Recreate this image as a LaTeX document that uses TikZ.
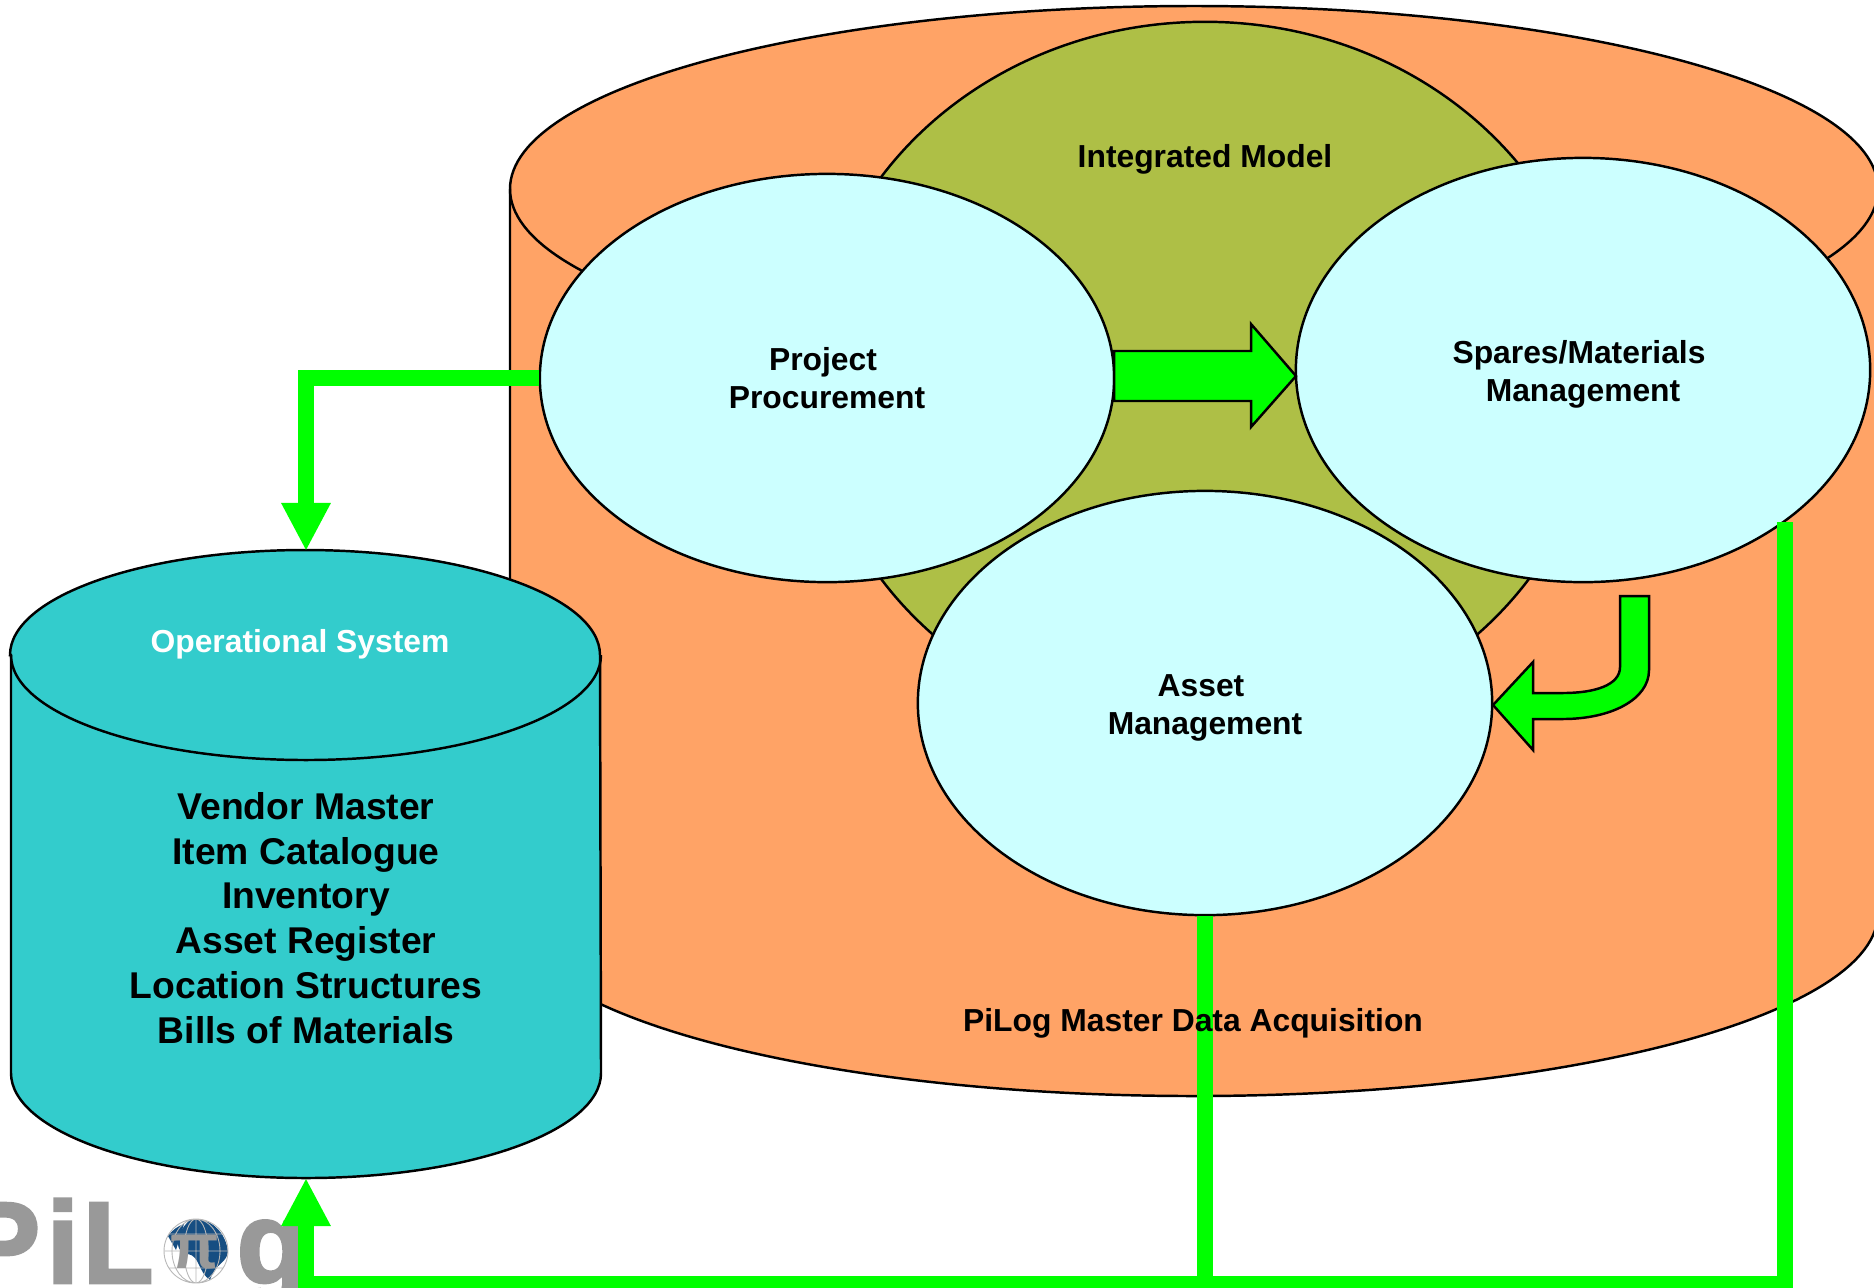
\documentclass[tikz,border=0pt]{standalone}
\usepackage{fontspec}
\setmainfont{Liberation Sans}
\newfontfamily\logofont{Liberation Sans}[BoldFeatures={FakeBold=2.5}]
\usetikzlibrary{arrows.meta,shapes.geometric}
\definecolor{drumorange}{RGB}{255,163,102}
\definecolor{modelolive}{RGB}{174,191,70}
\definecolor{moduleblue}{RGB}{204,255,255}
\definecolor{opsteal}{RGB}{51,204,204}
\definecolor{flowgreen}{RGB}{0,255,0}
\definecolor{logogrey}{RGB}{153,153,153}
\definecolor{globeblue}{RGB}{22,78,130}
\tikzset{
    module/.style={draw, ellipse, fill=moduleblue, line width=0.7pt, inner sep=0pt, minimum width=5.74cm, minimum height=4.24cm},
    caption/.style={inner sep=0pt, align=center, font=\bfseries\fontsize{9.05}{10.9}\selectfont},
    flow/.style={draw=flowgreen, line width=0.16cm},
    flowtip/.style={flow, -{Triangle[length=0.48cm,width=0.46cm]}},
    blockarrow/.style={draw, fill=flowgreen, line width=0.7pt, line join=miter},
    logoletter/.style={text=logogrey, inner sep=0pt, anchor=base west, font=\logofont\bfseries\fontsize{33}{33}\selectfont},
}
\begin{document}
\begin{tikzpicture}[x=0.01cm,y=-0.01cm]
        \clip (0,0) rectangle (1874,1287);

        % big drum
        \draw[fill=drumorange, line width=0.7pt] (510,189) -- (510,913) arc[start angle=180, end angle=0, x radius=684, y radius=183] -- (1878,189) arc[start angle=0, end angle=-180, x radius=684, y radius=183] -- cycle;
        \draw[line width=0.7pt] (510,189) arc[start angle=180, end angle=0, x radius=684, y radius=183];

        % model and the three modules
        \node[draw, ellipse, fill=modelolive, line width=0.7pt, inner sep=0pt, minimum width=7.84cm, minimum height=7.12cm] (model) at (1205,378) {};
        \node[caption] (modeltitle) at (1205,159) {Integrated Model};
        \node[module, minimum height=4.08cm] (project) at (827,378) {};
        \node[module] (spares) at (1583,370) {};
        \node[module] (asset) at (1205,703) {};
        \node[caption] at (project) {Project\hspace*{0.08cm}\\Procurement};
        \node[caption] at ([yshift=-0.04cm]spares) {Spares/Materials\hspace*{0.08cm}\\Management};
        \node[caption] at ([yshift=-0.05cm]asset) {Asset\hspace*{0.08cm}\\Management};

        % operational system
        \draw[fill=opsteal, line width=0.7pt] (11,655) -- (11,1073) arc[start angle=180, end angle=0, x radius=295, y radius=105] -- (600,655) arc[start angle=0, end angle=-180, x radius=295, y radius=105] -- cycle;
        \draw[line width=0.7pt] (11,655) arc[start angle=180, end angle=0, x radius=295, y radius=105];
        \coordinate (opstop) at (306,551);
        \coordinate (opsbottom) at (306,1178);
        \coordinate (buscorner) at (306,1284);
        \node[caption, text=white] (opstitle) at (300,644) {Operational System};
        \node[inner sep=0pt, align=center, font=\bfseries\fontsize{10.6}{12.75}\selectfont] (opslist) at (306,918) {Vendor Master\\Item Catalogue\\Inventory\\Asset Register\\Location Structures\\Bills of Materials};

        % logo
        \node[logoletter] (logop) at (-38,1283) {P};
        \node[logoletter] (logoi) at (46,1283) {i};
        \node[logoletter] (logol) at (82,1283) {L};
        \node[logoletter] (logog) at (236,1283) {g};
        \fill[white] (196,1251) circle (33);
        \fill[globeblue] (190,1220) .. controls (210,1216) and (226,1232) .. (228,1252) .. controls (226,1264) and (216,1262) .. (210,1280) .. controls (198,1272) and (200,1256) .. (188,1254) .. controls (176,1254) and (172,1236) .. (190,1220) -- cycle;
        \fill[globeblue] (168,1236) .. controls (172,1230) and (178,1226) .. (184,1224) -- (176,1250) -- cycle;
        \draw[logogrey!70!white, line width=0.25pt] (196,1251) circle (32) (196,1251) circle[x radius=12, y radius=32] (196,1251) circle[x radius=24, y radius=32] (196,1219) -- (196,1283) (164,1251) -- (228,1251) (169,1234) -- (223,1234) (169,1268) -- (223,1268);
        \node[text=logogrey, inner sep=0pt, font=\bfseries\fontsize{18}{18}\selectfont] (logopi) at (195,1252) {π};

        % block arrows
        \draw[blockarrow] (1114,351) -- (1251,351) -- (1251,324) -- (1296,376) -- (1251,427) -- (1251,401) -- (1114,401) -- cycle;
        \draw[blockarrow] (1620,596) -- (1649,596) -- (1649,670) .. controls (1649,700) and (1610,719) .. (1563,719) -- (1533,719) -- (1533,750) -- (1493,705) -- (1533,662) -- (1533,693) -- (1563,693) .. controls (1595,693) and (1620,685) .. (1620,667) -- cycle;

        % green flows
        \draw[flowtip] (project.west) -| (opstop);
        \draw[flow] (asset.south) -- (asset.south |- buscorner);
        \draw[flowtip] (spares.-37) |- (buscorner) -- (opsbottom);

        \node[caption] (acquisition) at (1193,1023) {PiLog Master Data Acquisition};
    \end{tikzpicture}
\end{document}
